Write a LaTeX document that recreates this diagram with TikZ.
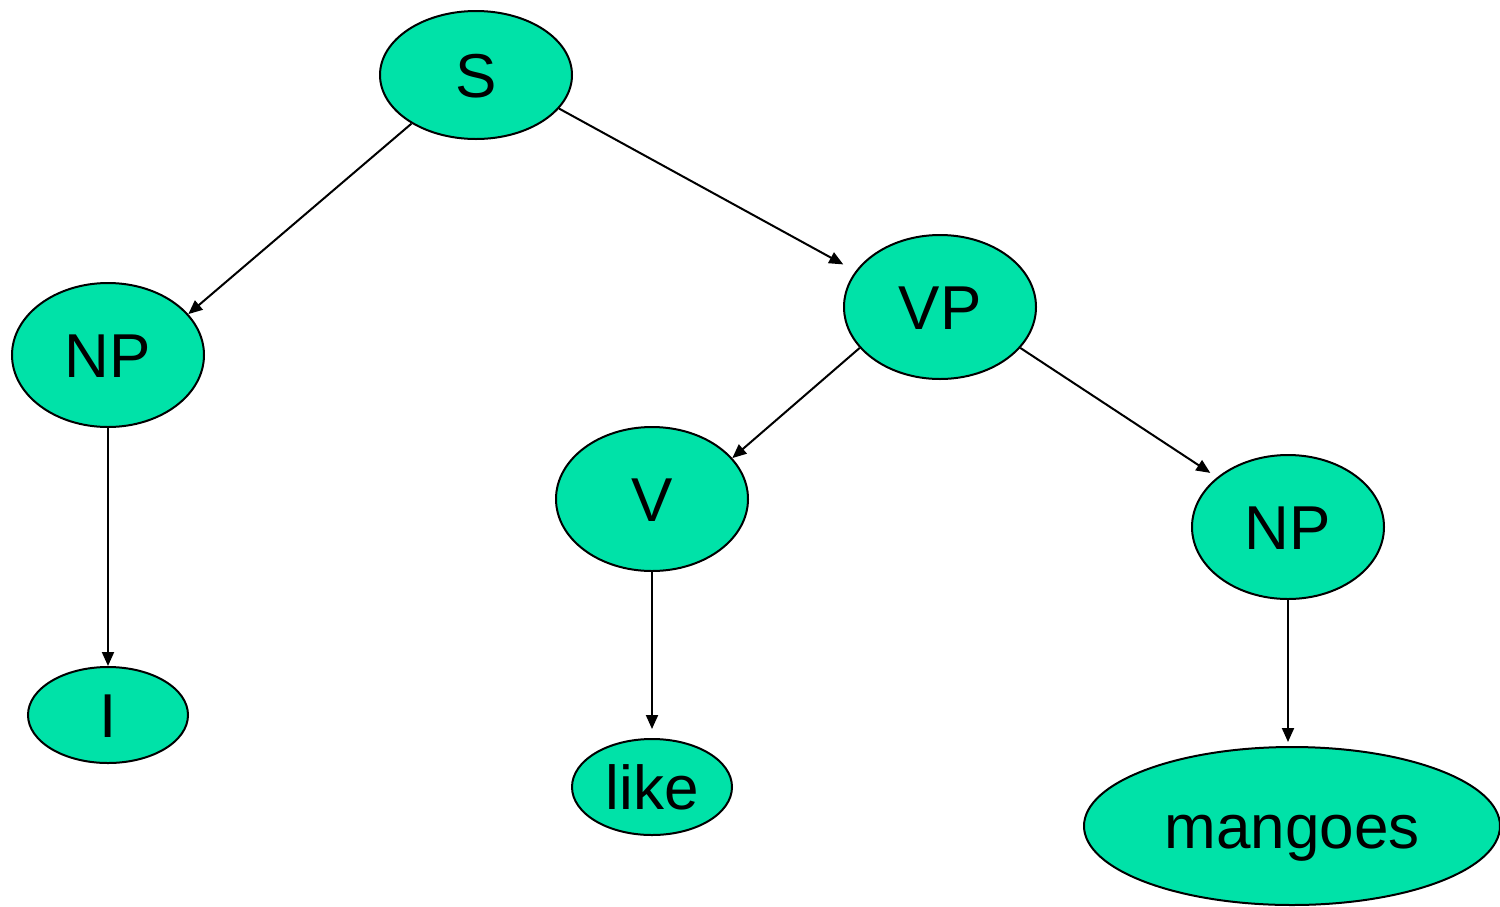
\documentclass[tikz,border=0pt]{standalone}
\usepackage{fontspec}
\setmainfont{Liberation Sans}
\usetikzlibrary{shapes.geometric,arrows.meta}
\definecolor{leaf}{RGB}{0,226,168}
\begin{document}
\begin{tikzpicture}[x=1pt,y=-1pt,
  tnode/.style={ellipse,draw=black,line width=2pt,fill=leaf,inner sep=0pt,
    font=\fontsize{62}{62}\selectfont,text height=44pt,text depth=0pt},
  big/.style={tnode,minimum width=192pt,minimum height=144pt},
  small/.style={tnode,minimum width=160pt,minimum height=96pt},
  edge/.style={line width=2pt,-{Triangle[length=14pt,width=12pt]}}]
\useasboundingbox (0,0) rectangle (1500,906);
% nodes of the parse tree
\node[tnode,minimum width=192pt,minimum height=128pt] (S) at (476,75) {S};
\node[big] (np1) at (108,355) {NP};
\node[big] (vp) at (940,307) {VP};
\node[big] (v) at (652,499) {V};
\node[big] (np2) at (1288,527) {NP};
\node[small] (i) at (108,715) {I};
\node[small] (like) at (652,787) {like};
\node[tnode,minimum width=416pt,minimum height=158pt] (mangoes) at (1292,826) {mangoes};
% branches
\draw[edge] (S.217) -- (np1.27);
\draw[edge,shorten >=14pt] (S.-22) -- (vp.157);
\draw[edge] (vp.207) -- (v.27);
\draw[edge,shorten >=8pt] (vp.-27) -- (np2.145);
\draw[edge] (np1.south) -- (i.north);
\draw[edge,shorten >=9pt] (v.south) -- (like.north);
\draw[edge,shorten >=5pt] (np2.south) -- (1288,747);
\end{tikzpicture}
\end{document}
